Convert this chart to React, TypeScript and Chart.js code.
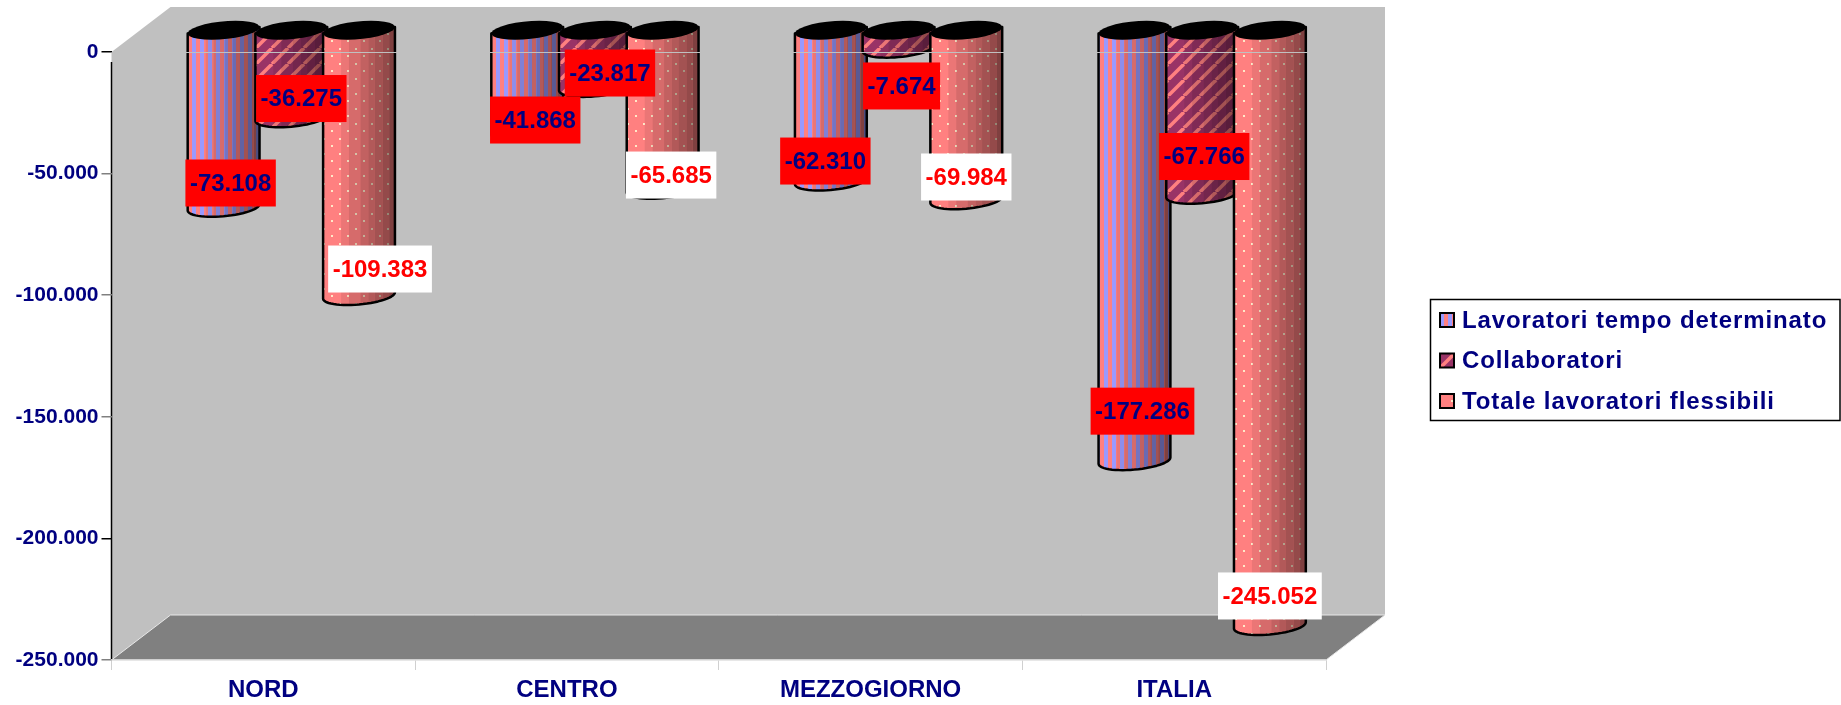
import React, { useEffect, useRef } from "react";
import { Chart, registerables } from "chart.js";

Chart.register(...registerables);

const categories = ["NORD", "CENTRO", "MEZZOGIORNO", "ITALIA"];
const seriesNames = ["Lavoratori tempo determinato", "Collaboratori", "Totale lavoratori flessibili"];
const tempoDeterminato = [-73108, -41868, -62310, -177286];
const collaboratori = [-36275, -23817, -7674, -67766];
const totaleFlessibili = [-109383, -65685, -69984, -245052];

const NAVY = "#000080";
const FONT = "'Liberation Sans', Arial, sans-serif";
const W = 1841;
const H = 705;
const DEPTH_X = 59;
const DEPTH_Y = 45;
const SHIFT_X = 28;
const SHIFT_Y = -22.5;
const CAP_DX = 24;
const CAP_DY = 19;
const BAND_STOPS = [0, 0.25, 0.36, 0.52, 0.63, 0.72, 0.83, 0.92, 1];
const BAND_ALPHA = [0, 0.08, 0.16, 0.24, 0.3, 0.36, 0.42, 0.5];
// label-box centre relative to the value's bar position, per series / category
const LABEL_DX = [[35, 36, 22.5, 36], [38, 43, 31, 30], [49, 36.5, 28, 28]];
const LABEL_DY = [[-46.8, -33.8, -42.5, -72], [-41.7, -36.9, 15.3, -60.3], [-49, -36.7, -45.2, -52]];
const LABEL_STYLE = [
  { fill: "#ff0000", text: NAVY },
  { fill: "#ff0000", text: NAVY },
  { fill: "#ffffff", text: "#ff0000" },
];

const fmt = (v: number) => {
  const s = String(Math.abs(Math.round(v))).replace(/\B(?=(\d{3})+$)/g, ".");
  return (v < 0 ? "-" : "") + s;
};

function makePattern(kind: number): CanvasPattern | string {
  const c = document.createElement("canvas");
  const x = c.getContext("2d")!;
  if (kind === 0) {
    c.width = 8; c.height = 4;
    x.fillStyle = "#9999ff"; x.fillRect(0, 0, 8, 4);
    x.fillStyle = "#ff8080"; x.fillRect(4, 0, 4, 4);
  } else if (kind === 1) {
    c.width = 16; c.height = 16;
    x.fillStyle = "#993366"; x.fillRect(0, 0, 16, 16);
    x.strokeStyle = "#ff8080"; x.lineWidth = 3.5;
    for (const o of [-16, 0, 16]) {
      x.beginPath(); x.moveTo(o, 16); x.lineTo(o + 16, 0); x.stroke();
    }
  } else {
    c.width = 16; c.height = 15;
    x.fillStyle = "#ff8080"; x.fillRect(0, 0, 16, 15);
    x.fillStyle = "#ffe8c8";
    x.fillRect(3, 3, 2, 2);
    x.fillRect(11, 10, 2, 2);
  }
  return x.createPattern(c, "repeat") || "#ff8080";
}

function ellipsePoint(cx: number, cy: number, w: number, t: number) {
  return {
    x: cx + (w / 2) * Math.cos(t) + (CAP_DX / 2) * Math.sin(t),
    y: cy - (CAP_DY / 2) * Math.sin(t),
  };
}

function drawCylinder(ctx: CanvasRenderingContext2D, cx: number, top: number, bottom: number, w: number, fill: any) {
  const t0 = Math.atan2(CAP_DX / 2, w / 2);
  const half = Math.hypot(w / 2, CAP_DX / 2);
  const N = 28;
  ctx.save();
  ctx.beginPath();
  const r0 = ellipsePoint(cx, top, w, t0);
  ctx.moveTo(r0.x, r0.y);
  const l0 = ellipsePoint(cx, top, w, t0 + Math.PI);
  ctx.lineTo(l0.x, l0.y);
  for (let i = 0; i <= N; i++) {
    const p = ellipsePoint(cx, bottom, w, t0 + Math.PI + (i / N) * Math.PI);
    ctx.lineTo(p.x, p.y);
  }
  ctx.closePath();
  ctx.save();
  ctx.clip();
  ctx.fillStyle = fill;
  ctx.fillRect(cx - half - 2, top - 20, 2 * half + 4, bottom - top + 40);
  for (let i = 0; i < BAND_ALPHA.length; i++) {
    const a = cx - half + BAND_STOPS[i] * 2 * half;
    const b = cx - half + BAND_STOPS[i + 1] * 2 * half;
    ctx.fillStyle = `rgba(0,0,0,${BAND_ALPHA[i]})`;
    ctx.fillRect(a, top - 20, b - a, bottom - top + 40);
  }
  ctx.restore();
  ctx.strokeStyle = "#000";
  ctx.lineWidth = 2.5;
  ctx.lineJoin = "round";
  ctx.stroke();
  ctx.beginPath();
  for (let i = 0; i <= N; i++) {
    const p = ellipsePoint(cx, top, w, (i / N) * 2 * Math.PI);
    if (i === 0) ctx.moveTo(p.x, p.y);
    else ctx.lineTo(p.x, p.y);
  }
  ctx.closePath();
  ctx.fillStyle = "#000";
  ctx.fill();
  ctx.restore();
}

const scenePlugin = {
  id: "scene",
  beforeDraw(chart: any) {
    const { ctx, chartArea: a } = chart;
    ctx.save();
    ctx.fillStyle = "#c0c0c0";
    ctx.beginPath();
    ctx.moveTo(a.left, a.top);
    ctx.lineTo(a.left + DEPTH_X, a.top - DEPTH_Y);
    ctx.lineTo(a.right + DEPTH_X, a.top - DEPTH_Y);
    ctx.lineTo(a.right + DEPTH_X, a.bottom - DEPTH_Y);
    ctx.lineTo(a.right, a.bottom);
    ctx.lineTo(a.left, a.bottom);
    ctx.closePath();
    ctx.fill();
    ctx.beginPath();
    ctx.moveTo(a.left, a.bottom);
    ctx.lineTo(a.left + DEPTH_X, a.bottom - DEPTH_Y);
    ctx.lineTo(a.right + DEPTH_X, a.bottom - DEPTH_Y);
    ctx.lineTo(a.right, a.bottom);
    ctx.closePath();
    ctx.fillStyle = "#808080";
    ctx.fill();
    ctx.strokeStyle = "#e8e8e8";
    ctx.lineWidth = 1;
    ctx.beginPath();
    ctx.moveTo(a.left, a.bottom);
    ctx.lineTo(a.left + DEPTH_X, a.bottom - DEPTH_Y);
    ctx.lineTo(a.right + DEPTH_X, a.bottom - DEPTH_Y);
    ctx.lineTo(a.right, a.bottom);
    ctx.stroke();
    ctx.strokeStyle = "#000";
    ctx.lineWidth = 1.5;
    ctx.beginPath();
    ctx.moveTo(a.left, a.top + 10);
    ctx.lineTo(a.left, a.bottom);
    ctx.stroke();
    ctx.restore();
  },
  beforeDatasetDraw() {
    return false;
  },
  afterDatasetsDraw(chart: any) {
    const { ctx, chartArea: a } = chart;
    const n = chart.data.datasets.length;
    for (let d = 0; d < n; d++) {
      const meta = chart.getDatasetMeta(d);
      meta.data.forEach((el: any) => {
        drawCylinder(ctx, el.x + SHIFT_X, el.base + SHIFT_Y, el.y + SHIFT_Y, el.width, el.options.backgroundColor);
      });
    }
    // zero line on the front plane: same grey as the wall, so it only shows over the bars
    ctx.save();
    ctx.strokeStyle = "#c0c0c0";
    ctx.lineWidth = 1;
    ctx.beginPath();
    ctx.moveTo(a.left, a.top + 0.5);
    ctx.lineTo(a.right, a.top + 0.5);
    ctx.stroke();
    // value labels
    ctx.font = `bold 24px ${FONT}`;
    ctx.textAlign = "center";
    ctx.textBaseline = "middle";
    for (let d = 0; d < n; d++) {
      const meta = chart.getDatasetMeta(d);
      meta.data.forEach((el: any, i: number) => {
        const v = chart.data.datasets[d].data[i];
        const cx = el.x + LABEL_DX[d][i];
        const cy = el.y + LABEL_DY[d][i];
        const t = fmt(v);
        const bw = ctx.measureText(t).width + 9;
        ctx.fillStyle = LABEL_STYLE[d].fill;
        ctx.fillRect(cx - bw / 2, cy - 23.5, bw, 47);
        ctx.fillStyle = LABEL_STYLE[d].text;
        ctx.fillText(t, cx, cy + 1);
      });
    }
    // legend
    const lx = 1430.5, ly = 299.5, lw = 409.5, lh = 121;
    ctx.fillStyle = "#ffffff";
    ctx.fillRect(lx, ly, lw, lh);
    ctx.strokeStyle = "#000";
    ctx.lineWidth = 1.5;
    ctx.strokeRect(lx, ly, lw, lh);
    ctx.textAlign = "left";
    ctx.font = `bold 24px ${FONT}`;
    (ctx as any).letterSpacing = "0.9px";
    chart.data.datasets.forEach((ds: any, i: number) => {
      const y = 320 + i * 40.5;
      ctx.fillStyle = ds.backgroundColor;
      ctx.fillRect(1440, y - 7, 14, 14);
      ctx.strokeStyle = "#000";
      ctx.lineWidth = 2;
      ctx.strokeRect(1440, y - 7, 14, 14);
      ctx.fillStyle = NAVY;
      ctx.fillText(ds.label, 1462, y + 1);
    });
    (ctx as any).letterSpacing = "0px";
    ctx.restore();
  },
};

export default function App() {
  const ref = useRef<HTMLCanvasElement>(null);
  useEffect(() => {
    const series = [tempoDeterminato, collaboratori, totaleFlessibili];
    const chart = new Chart(ref.current!, {
      type: "bar",
      data: {
        labels: categories,
        datasets: series.map((data, i) => ({
          label: seriesNames[i],
          data,
          backgroundColor: makePattern(i) as any,
          barPercentage: 1,
          categoryPercentage: 0.669,
        })),
      },
      options: {
        animation: false,
        responsive: false,
        devicePixelRatio: 1,
        layout: { padding: { top: 52, right: W - 1326, left: 0, bottom: 0 } },
        plugins: { legend: { display: false }, tooltip: { enabled: false } },
        scales: {
          x: {
            grid: { drawOnChartArea: false, color: "#d0d0d0", tickLength: 10 },
            border: { color: "#d0d0d0", width: 1.5 },
            ticks: { color: NAVY, font: { family: FONT, size: 24, weight: "bold" }, padding: 6, maxRotation: 0, autoSkip: false },
            afterFit(s: any) { s.height = 45; },
          },
          y: {
            min: -250000,
            max: 0,
            grid: {
              drawOnChartArea: false,
              tickLength: 10,
              color: (c: any) => (c.tick && (c.tick.value === 0 || c.tick.value === -200000) ? "#000" : "#808080"),
              lineWidth: 1.5,
            },
            border: { display: false },
            ticks: {
              stepSize: 50000,
              color: NAVY,
              font: { family: FONT, size: 21, weight: "bold" },
              padding: 3,
              callback: (v: any) => fmt(Number(v)),
            },
            afterFit(s: any) { s.width = 111.5; },
          },
        },
      } as any,
      plugins: [scenePlugin as any],
    });
    return () => chart.destroy();
  }, []);
  return (
    <div style={{ position: "absolute", left: 0, top: 0, width: W, height: H, background: "#fff" }}>
      <canvas ref={ref} width={W} height={H} style={{ display: "block" }} />
    </div>
  );
}
